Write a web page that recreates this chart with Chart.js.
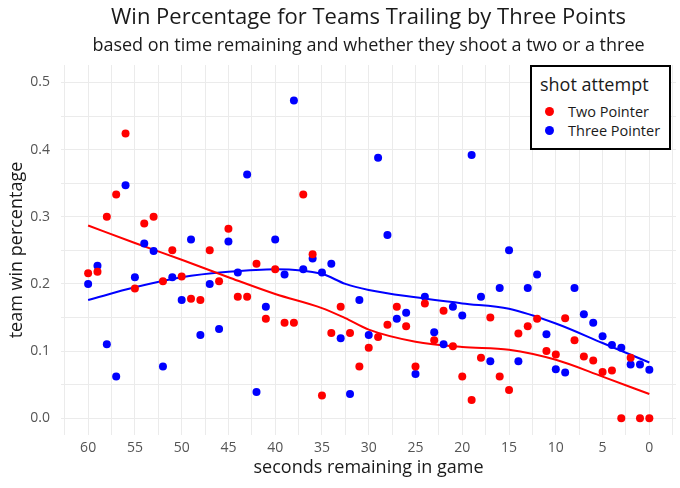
<!DOCTYPE html>
<html lang="en">
<head>
<meta charset="utf-8">
<title>Win Percentage for Teams Trailing by Three Points</title>
<script src="https://cdn.jsdelivr.net/npm/chart.js@4/dist/chart.umd.min.js"></script>
<style>
    html, body { margin: 0; padding: 0; background: #ffffff; }
    #wrap { position: relative; width: 680px; height: 488px; }
    #legend-box {
        position: absolute; left: 530px; top: 65px; width: 137px; height: 81px;
        border: 2px solid #000; background: #fff;
        font-family: 'Open Sans', sans-serif; color: #1a1a1a;
    }
    #legend-box .legend-title { position: absolute; left: 8px; top: 5px; font-size: 18px; line-height: 24px; white-space: nowrap; }
    #legend-box ul { list-style: none; margin: 0; padding: 0; position: absolute; left: 0; top: 35px; }
    #legend-box li { position: relative; height: 19px; font-size: 14.5px; line-height: 19px; white-space: nowrap; }
    #legend-box .dot { position: absolute; left: 13px; top: 5px; width: 9px; height: 9px; border-radius: 50%; }
    #legend-box .label { position: absolute; left: 36px; top: 0; }
</style>
</head>
<body>
<div id="wrap">
    <canvas id="chart"></canvas>
    <div id="legend-box">
        <div class="legend-title">shot attempt</div>
        <ul id="legend-list"></ul>
    </div>
</div>
<script>
// 残り秒数（横軸）
const seconds = [60, 59, 58, 57, 56, 55, 54, 53, 52, 51, 50, 49, 48, 47, 46, 45, 44, 43, 42, 41,
                 40, 39, 38, 37, 36, 35, 34, 33, 32, 31, 30, 29, 28, 27, 26, 25, 24, 23, 22, 21,
                 20, 19, 18, 17, 16, 15, 14, 13, 12, 11, 10, 9, 8, 7, 6, 5, 4, 3, 2, 1, 0];

// 2点シュートを選んだ場合の勝率
const twoPointer = [0.216, 0.218, 0.300, 0.333, 0.424, 0.193, 0.290, 0.300, 0.204, 0.250,
                    0.211, 0.178, 0.176, 0.250, 0.204, 0.282, 0.181, 0.181, 0.230, 0.148,
                    0.222, 0.142, 0.142, 0.333, 0.244, 0.034, 0.127, 0.166, 0.127, 0.077,
                    0.105, 0.121, 0.139, 0.166, 0.137, 0.077, 0.171, 0.116, 0.160, 0.107,
                    0.062, 0.027, 0.090, 0.150, 0.062, 0.042, 0.126, 0.137, 0.148, 0.100,
                    0.095, 0.149, 0.116, 0.092, 0.086, 0.069, 0.071, 0.000, 0.090, 0.000, 0.000];

// 3点シュートを選んだ場合の勝率
const threePointer = [0.200, 0.227, 0.110, 0.062, 0.347, 0.210, 0.260, 0.249, 0.077, 0.210,
                      0.176, 0.266, 0.124, 0.200, 0.133, 0.263, 0.217, 0.363, 0.039, 0.166,
                      0.266, 0.214, 0.473, 0.222, 0.238, 0.217, 0.230, 0.119, 0.036, 0.176,
                      0.124, 0.388, 0.273, 0.148, 0.157, 0.066, 0.181, 0.128, 0.110, 0.166,
                      0.153, 0.392, 0.181, 0.085, 0.194, 0.250, 0.085, 0.194, 0.214, 0.125,
                      0.073, 0.068, 0.194, 0.155, 0.142, 0.122, 0.109, 0.105, 0.080, 0.080, 0.072];

// 平滑化曲線
const smoothSeconds = [60, 55, 50, 45, 40, 35, 32.5, 30, 25, 20, 15, 10, 5, 0];
const twoSmooth = [0.287, 0.261, 0.236, 0.210, 0.185, 0.164, 0.149, 0.132, 0.114, 0.106, 0.102, 0.087, 0.062, 0.036];
const threeSmooth = [0.176, 0.195, 0.210, 0.218, 0.222, 0.215, 0.200, 0.191, 0.180, 0.171, 0.163, 0.141, 0.112, 0.083];

const RED = '#ff0000';
const BLUE = '#0000ff';
const GRID = '#ebebeb';

Chart.defaults.font.family = "'Open Sans', sans-serif";

const toPoints = (xs, ys) => xs.map((x, i) => ({ x: x, y: ys[i] }));

// HTML凡例を作成するプラグイン
const htmlLegend = {
    id: 'htmlLegend',
    afterUpdate(chart) {
        const list = document.getElementById('legend-list');
        list.innerHTML = '';
        const items = chart.options.plugins.legend.labels.generateLabels(chart)
            .filter(item => chart.data.datasets[item.datasetIndex].inLegend);
        items.forEach(item => {
            const li = document.createElement('li');
            const dot = document.createElement('span');
            dot.className = 'dot';
            dot.style.background = item.fillStyle;
            const label = document.createElement('span');
            label.className = 'label';
            label.textContent = item.text;
            li.appendChild(dot);
            li.appendChild(label);
            list.appendChild(li);
        });
    }
};

new Chart(document.getElementById('chart'), {
    type: 'scatter',
    data: {
        datasets: [
            {
                label: 'Two Pointer',
                inLegend: true,
                data: toPoints(seconds, twoPointer),
                backgroundColor: RED,
                borderColor: RED,
                borderWidth: 0,
                pointRadius: 4
            },
            {
                label: 'Three Pointer',
                inLegend: true,
                data: toPoints(seconds, threePointer),
                backgroundColor: BLUE,
                borderColor: BLUE,
                borderWidth: 0,
                pointRadius: 4
            },
            {
                label: 'Two Pointer (smooth)',
                data: toPoints(smoothSeconds, twoSmooth),
                showLine: true,
                borderColor: RED,
                backgroundColor: RED,
                borderWidth: 2,
                pointRadius: 0,
                cubicInterpolationMode: 'monotone'
            },
            {
                label: 'Three Pointer (smooth)',
                data: toPoints(smoothSeconds, threeSmooth),
                showLine: true,
                borderColor: BLUE,
                backgroundColor: BLUE,
                borderWidth: 2,
                pointRadius: 0,
                cubicInterpolationMode: 'monotone'
            }
        ]
    },
    options: {
        animation: false,
        responsive: true,
        maintainAspectRatio: false,
        layout: { padding: 0 },
        plugins: {
            legend: { display: false },
            tooltip: { enabled: false },
            title: {
                display: true,
                fullSize: false,
                text: 'Win Percentage for Teams Trailing by Three Points',
                color: '#1a1a1a',
                font: { size: 22, weight: 'normal' },
                padding: { top: 4.8, bottom: 0 }
            },
            subtitle: {
                display: true,
                fullSize: false,
                text: 'based on time remaining and whether they shoot a two or a three',
                color: '#1a1a1a',
                font: { size: 18, weight: 'normal' },
                padding: { top: 4, bottom: 8.2 }
            }
        },
        scales: {
            x: {
                type: 'linear',
                reverse: true,
                min: -2.85,
                max: 62.9,
                border: { display: false },
                grid: { color: GRID, lineWidth: 1, drawTicks: false },
                ticks: {
                    stepSize: 2.5,
                    includeBounds: false,
                    autoSkip: false,
                    maxRotation: 0,
                    padding: 5,
                    color: '#555555',
                    font: { size: 14 },
                    callback: v => (Math.round(v * 10) % 50 === 0 ? String(v) : '')
                },
                title: {
                    display: true,
                    text: 'seconds remaining in game',
                    color: '#1a1a1a',
                    font: { size: 18 },
                    padding: { top: 0, bottom: 9.6 }
                },
                afterFit: scale => { scale.height = 53; }
            },
            y: {
                min: -0.025,
                max: 0.526,
                border: { display: false },
                grid: { color: GRID, lineWidth: 1, drawTicks: false },
                ticks: {
                    stepSize: 0.05,
                    includeBounds: false,
                    autoSkip: false,
                    padding: 11,
                    color: '#555555',
                    font: { size: 14 },
                    callback: v => (Math.round(v * 100) % 10 === 0 ? v.toFixed(1) : '')
                },
                title: {
                    display: true,
                    text: 'team win percentage',
                    color: '#1a1a1a',
                    font: { size: 18 },
                    padding: { top: 5.9, bottom: 0 }
                },
                afterFit: scale => { scale.width = 61; }
            }
        }
    },
    plugins: [htmlLegend]
});
</script>
</body>
</html>
